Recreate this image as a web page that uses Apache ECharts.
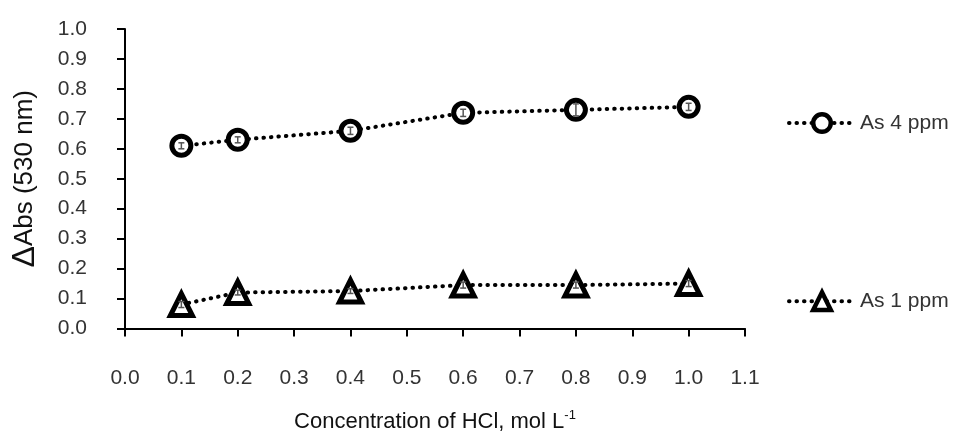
<!DOCTYPE html>
<html>
<head>
<meta charset="utf-8">
<script src="https://cdn.jsdelivr.net/npm/echarts@6/dist/echarts.min.js"></script>
<style>
  html, body { margin: 0; padding: 0; background: #fff; }
  #chart { width: 965px; height: 438px; }
</style>
</head>
<body>
<div id="chart"></div>
<script>
// Данные
const hclConc = [0.1, 0.2, 0.4, 0.6, 0.8, 1.0];
const as4ppm = [0.61, 0.63, 0.66, 0.72, 0.73, 0.74];
const as1ppm = [0.08, 0.12, 0.125, 0.145, 0.145, 0.15];
const as4Err = [0.01, 0.01, 0.012, 0.012, 0.02, 0.012];
const as1Err = [0.01, 0.008, 0.008, 0.01, 0.01, 0.01];

const font = 'Liberation Sans';
const textColor = '#333';
const dots = { color: '#000', width: 4, type: [0.5, 7], cap: 'round' };

const toPairs = (xs, ys) => xs.map((x, i) => [x, ys[i]]);

// Планки погрешностей
const errorSeries = (ys, errs) => ({
    type: 'custom',
    silent: true,
    z: 5,
    data: hclConc.map((x, i) => [x, ys[i] - errs[i], ys[i] + errs[i]]),
    renderItem: (params, api) => {
        const lo = api.coord([api.value(0), api.value(1)]);
        const hi = api.coord([api.value(0), api.value(2)]);
        const w = 3;
        const st = { stroke: '#555', lineWidth: 1.5 };
        return {
            type: 'group',
            children: [
                { type: 'line', shape: { x1: lo[0], y1: lo[1], x2: hi[0], y2: hi[1] }, style: st },
                { type: 'line', shape: { x1: lo[0] - w, y1: lo[1], x2: lo[0] + w, y2: lo[1] }, style: st },
                { type: 'line', shape: { x1: hi[0] - w, y1: hi[1], x2: hi[0] + w, y2: hi[1] }, style: st }
            ]
        };
    }
});

const lineSeries = (name, ys, symbol, size) => ({
    name,
    type: 'line',
    data: toPairs(hclConc, ys),
    symbol,
    symbolSize: size,
    z: 3,
    lineStyle: dots,
    itemStyle: { color: '#fff', borderColor: '#000', borderWidth: 5 }
});

const chart = echarts.init(document.getElementById('chart'));

const option = {
    backgroundColor: '#fff',
    animation: false,
    grid: { left: 125, right: 220, top: 29, bottom: 107 },
    legend: {
        orient: 'vertical',
        left: 782,
        top: 107,
        itemWidth: 66,
        itemHeight: 22,
        itemGap: 156,
        itemStyle: { color: '#fff', borderColor: '#000', borderWidth: 4.5 },
        lineStyle: dots,
        textStyle: { fontFamily: font, fontSize: 21, color: textColor },
        data: ['As 4 ppm', 'As 1 ppm']
    },
    xAxis: {
        type: 'value',
        min: 0,
        max: 1.1,
        interval: 0.1,
        name: 'Concentration of HCl, mol L{sup|-1}',
        nameLocation: 'middle',
        nameGap: 80,
        nameTextStyle: {
            fontFamily: font,
            fontSize: 22,
            color: '#111',
            rich: { sup: { fontFamily: font, fontSize: 13, color: '#111', padding: [0, 0, 14, 0] } }
        },
        splitLine: { show: false },
        axisLine: { lineStyle: { color: '#000', width: 2 } },
        axisTick: { length: 8, lineStyle: { color: '#000', width: 2 } },
        axisLabel: {
            margin: 39,
            fontFamily: font,
            fontSize: 21,
            color: textColor,
            formatter: v => v.toFixed(1)
        }
    },
    yAxis: {
        type: 'value',
        min: 0,
        max: 1.0,
        interval: 0.1,
        name: '{d|Δ}Abs (530 nm)',
        nameLocation: 'middle',
        nameGap: 84,
        nameTextStyle: {
            fontFamily: font,
            fontSize: 26,
            color: '#111',
            rich: { d: { fontFamily: font, fontSize: 32, color: '#111' } }
        },
        splitLine: { show: false },
        axisLine: { show: true, lineStyle: { color: '#000', width: 2 } },
        axisTick: { show: true, length: 8, lineStyle: { color: '#000', width: 2 } },
        axisLabel: {
            margin: 38,
            fontFamily: font,
            fontSize: 21,
            color: textColor,
            formatter: v => v.toFixed(1)
        }
    },
    series: [
        lineSeries('As 4 ppm', as4ppm, 'circle', 19),
        lineSeries('As 1 ppm', as1ppm, 'triangle', 22),
        errorSeries(as4ppm, as4Err),
        errorSeries(as1ppm, as1Err)
    ]
};

chart.setOption(option);
</script>
</body>
</html>
